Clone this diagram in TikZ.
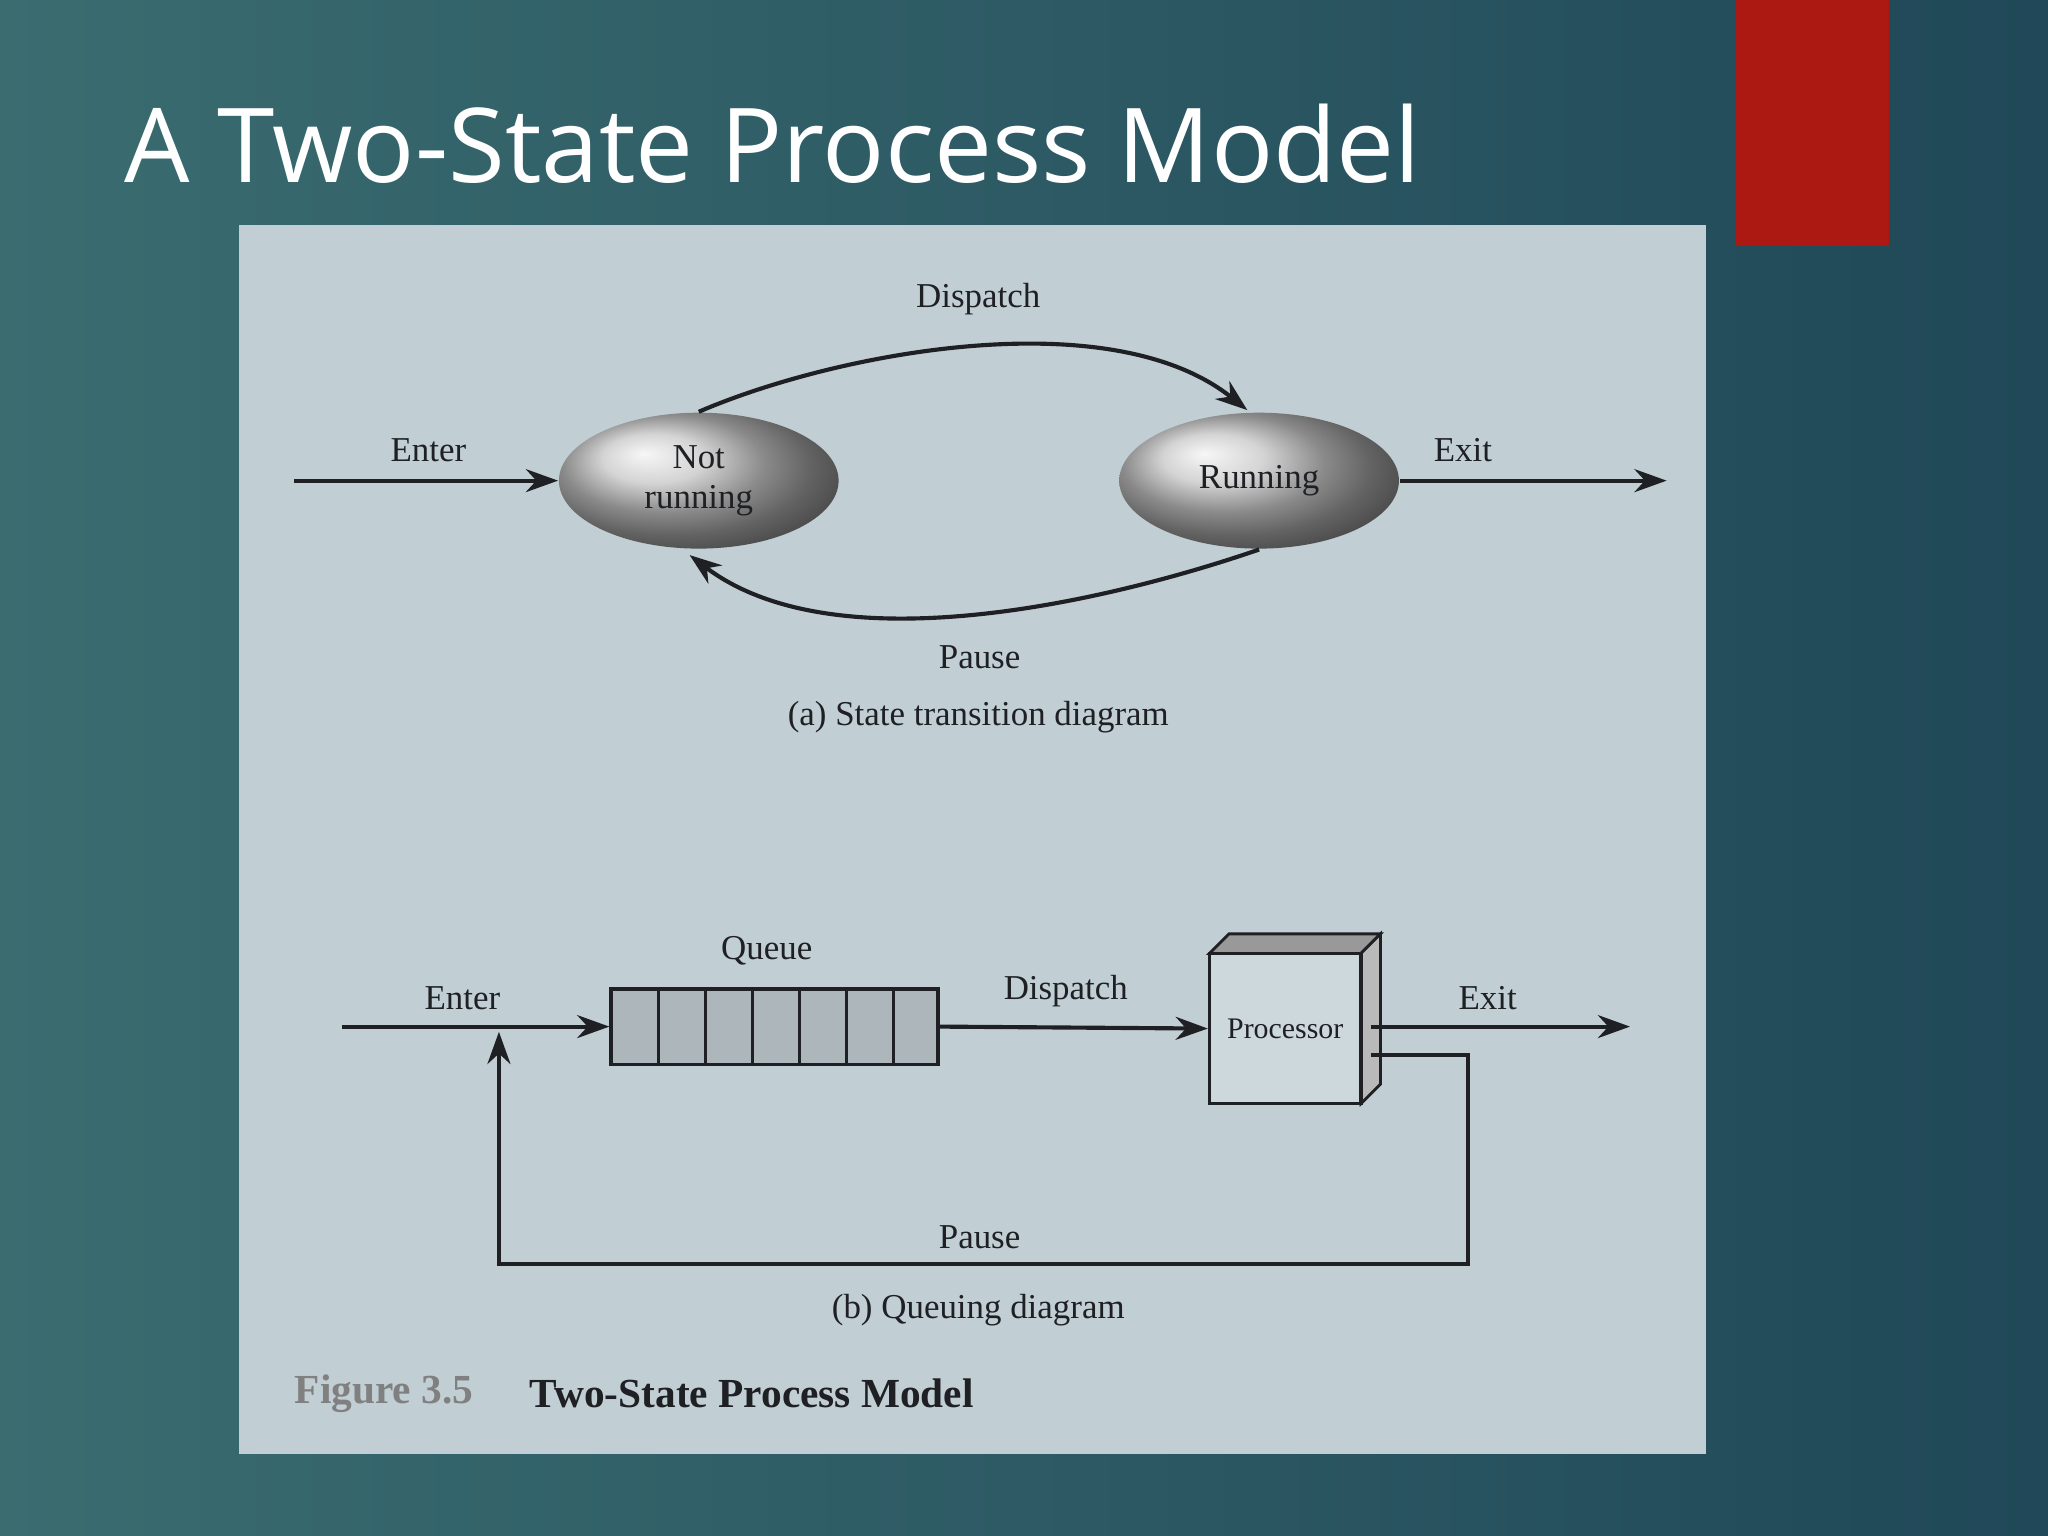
\documentclass[tikz,border=0pt]{standalone}
\usepackage{fontspec}
\setmainfont{Liberation Serif}
\newfontfamily\titlefont{Open Sans}
\usetikzlibrary{arrows.meta,shapes.geometric}
\definecolor{panel}{RGB}{193,206,211}
\definecolor{redbar}{RGB}{172,24,18}
\definecolor{ink}{RGB}{30,32,36}
\tikzset{
 lbl/.style={font=\fontsize{7.6pt}{8.6pt}\selectfont,text=ink,align=center,inner sep=0pt},
 conn/.style={draw=ink,line width=0.9pt,-{Stealth[length=7pt,width=5pt]}},
 state/.style={ellipse,draw=none,inner sep=0pt,ball color=gray!45,font=\fontsize{7.6pt}{8.6pt}\selectfont,text=ink,align=center},
}
\begin{document}
\begin{tikzpicture}[x=0.01cm,y=-0.01cm]
\shade[left color={rgb,255:red,58;green,108;blue,112},right color={rgb,255:red,32;green,72;blue,88}] (0,0) rectangle (1568,1176);
\useasboundingbox (0,0) rectangle (1568,1176);
\fill[redbar] (1328,0) rectangle (1446,188);
\node[anchor=west,inner sep=0pt,text=white,font=\titlefont\fontsize{22.5pt}{26pt}\selectfont] (title) at (95,110) {A Two-State Process Model};
\fill[panel] (183,172) rectangle (1306,1113);
% (a)
\node[state,minimum width=2.14cm,minimum height=1.04cm] (nr) at (535,368) {Not\\running};
\node[state,minimum width=2.14cm,minimum height=1.04cm] (run) at (964,368) {Running};
\coordinate (ein) at (225,368);
\coordinate (eout) at (1276,368);
\draw[conn] (ein) -- (nr.west);
\draw[conn] (run.east) -- (eout);
\draw[conn] (nr.north) .. controls (640,270) and (850,230) .. (955,314);
\draw[conn] (run.south) .. controls (850,460) and (640,510) .. (528,425);
\node[lbl] (l1) at (328,345) {Enter};
\node[lbl] (l2) at (1120,345) {Exit};
\node[lbl] (l3) at (749,229) {Dispatch};
\node[lbl] (l4) at (750,503) {Pause};
\node[lbl] (l5) at (749,549) {(a) State transition diagram};
% (b)
\node[draw=ink,fill=gray!30!panel,minimum width=2.5cm,minimum height=0.58cm,inner sep=0pt,line width=0.8pt] (q) at (593,786) {};
\foreach \x in {504,540,576,612,648,684} \draw[ink,line width=0.7pt] (\x,757) -- (\x,815);
\fill[gray!80,draw=ink,line width=0.6pt] (926,730) -- (941,715) -- (1057,715) -- (1042,730) -- cycle;
\fill[gray!55,draw=ink,line width=0.6pt] (1042,730) -- (1057,715) -- (1057,830) -- (1042,845) -- cycle;
\node[draw=ink,fill=panel!80!white,minimum width=1.16cm,minimum height=1.15cm,inner sep=0pt,line width=0.7pt,font=\fontsize{6.5pt}{7pt}\selectfont,text=ink] (p) at (984,787.5) {Processor};
\coordinate (bin) at (262,786);
\coordinate (bout) at (1248,786);
\coordinate (pa) at (1050,808);
\coordinate (pb) at (382,790);
\draw[conn] (bin) -- (q.west);
\draw[conn] (q.east) -- (p.west);
\draw[conn] (1050,786) -- (bout);
\draw[conn] (pa) -- (1124,808) -- (1124,968) -- (382,968) -- (pb);
\node[lbl] (m1) at (587,728) {Queue};
\node[lbl] (m2) at (354,764) {Enter};
\node[lbl] (m3) at (816,759) {Dispatch};
\node[lbl] (m4) at (1139,764) {Exit};
\node[lbl] (m5) at (750,947) {Pause};
\node[lbl] (m6) at (749,1003) {(b) Queuing diagram};
\node[lbl,anchor=west,font=\bfseries\fontsize{9pt}{10pt}\selectfont,text=gray] (f1) at (225,1067) {Figure 3.5};
\node[lbl,anchor=west,font=\bfseries\fontsize{9pt}{10pt}\selectfont] (f2) at (405,1067) {Two-State Process Model};
\end{tikzpicture}
\end{document}
